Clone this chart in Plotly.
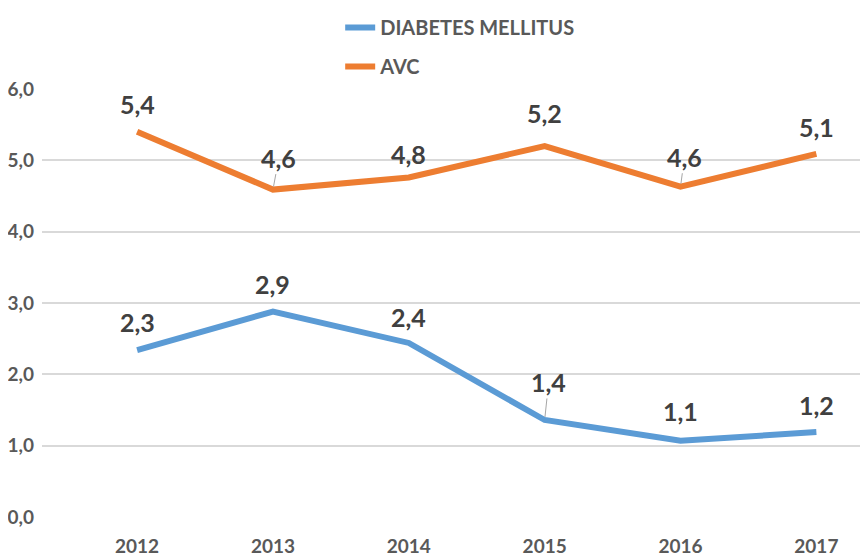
import plotly.graph_objects as go

years = [2012, 2013, 2014, 2015, 2016, 2017]
year_labels = ["2012", "2013", "2014", "2015", "2016", "2017"]
series_names = ["DIABETES MELLITUS", "AVC"]
diabetes = [2.34, 2.88, 2.44, 1.36, 1.07, 1.19]
avc = [5.40, 4.59, 4.76, 5.20, 4.63, 5.09]
colors = ["#5B9BD5", "#ED7D31"]
ytick_vals = [0, 1, 2, 3, 4, 5, 6]

# label offsets (pixels above point) and whether a leader line is drawn
dm_offsets = [28, 28, 26, 38, 30, 27]
dm_leader = [False, False, False, True, False, False]
dm_xshift = [0, 0, 0, 4, 0, 0]
avc_offsets = [28, 32, 23, 33, 30, 27]
avc_leader = [False, True, False, False, True, False]
avc_xshift = [0, 6, 0, 0, 4, 0]

FONT = "Lato"
fig = go.Figure()
for name, vals, col in zip(series_names, [diabetes, avc], colors):
    fig.add_trace(go.Scatter(
        x=years, y=vals, name=name, mode="lines",
        line=dict(color=col, width=6), legendgroup=name,
    ))

def fmt(v):
    return f"{v:.1f}".replace(".", ",")

annos = []
for vals, offs, lead, xs in [(diabetes, dm_offsets, dm_leader, dm_xshift),
                             (avc, avc_offsets, avc_leader, avc_xshift)]:
    for x, v, o, l, s in zip(years, vals, offs, lead, xs):
        if l:
            annos.append(dict(x=x, y=v, text=fmt(v), showarrow=True, arrowhead=0,
                              arrowwidth=1, arrowcolor="#A6A6A6", ax=s, ay=-o,
                              standoff=3,
                              font=dict(family=FONT, size=25, color="#404040", weight="bold")))
        else:
            annos.append(dict(x=x, y=v, text=fmt(v), showarrow=False, yshift=o,
                              xshift=s,
                              font=dict(family=FONT, size=25, color="#404040", weight="bold")))

fig.update_layout(
    width=860, height=549,
    margin=dict(l=34, r=0, t=80, b=40),
    paper_bgcolor="white", plot_bgcolor="white",
    separators=",.",
    showlegend=True,
    legend=dict(x=0.361, xanchor="left", y=1.19, yanchor="top",
                orientation="v", tracegroupgap=10,
                font=dict(family=FONT, size=20, color="#595959", weight="bold"),
                bgcolor="rgba(0,0,0,0)"),
    annotations=annos,
    xaxis=dict(range=[2011.30, 2017.38], tickvals=years, ticktext=year_labels,
               showgrid=False, zeroline=False, showline=False,
               ticklabelstandoff=16,
               tickfont=dict(family=FONT, size=19, color="#595959", weight="bold")),
    yaxis=dict(range=[0, 6], tickvals=ytick_vals, tickformat=".1f",
               showgrid=True, gridcolor="#D9D9D9", gridwidth=1.5,
               zeroline=False, showline=False, ticklabelstandoff=7,
               tickfont=dict(family=FONT, size=19, color="#595959", weight="bold")),
)
fig.write_html("out.html")
